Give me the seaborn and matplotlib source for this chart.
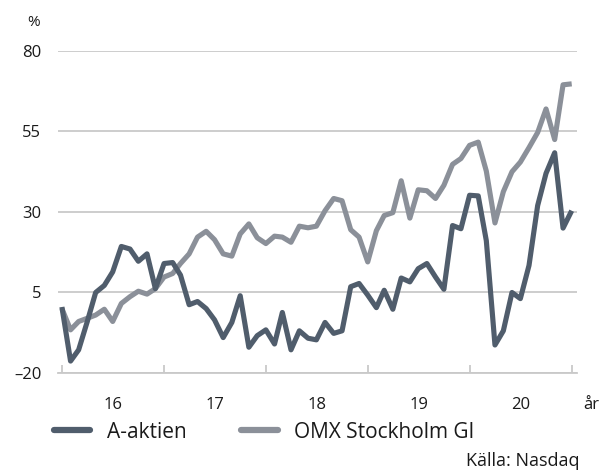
import matplotlib
matplotlib.use("Agg")
import matplotlib.pyplot as plt
import numpy as np
import pandas as pd
import seaborn as sns

# Monthly development in percent, Dec 2015 - Dec 2020
months = pd.date_range("2015-12-31", periods=61, freq="ME")

a_aktien = [
    0.5, -16.3, -12.8, -4.0, 5.0, 7.2, 11.4, 19.3, 18.5, 14.7, 17.0, 6.2,
    14.0, 14.3, 10.4, 1.2, 2.2, 0.0, -3.5, -9.0, -4.3, 4.0, -12.0, -8.4,
    -6.6, -11.0, -1.2, -12.8, -6.9, -9.2, -9.7, -4.3, -7.7, -6.9, 6.8, 7.8,
    4.2, 0.3, 5.7, -0.2, 9.5, 8.3, 12.4, 14.0, 9.8, 6.0, 25.8, 24.8,
    35.2, 35.0, 21.1, -11.3, -6.9, 5.0, 3.1, 13.4, 32.0, 42.0, 48.4, 25.0,
    30.4,
]

omx_gi = [
    0.0, -6.6, -4.0, -3.0, -2.0, -0.2, -4.0, 1.6, 3.7, 5.4, 4.5, 6.2,
    9.8, 10.9, 14.0, 17.0, 22.2, 24.0, 21.4, 17.0, 16.3, 23.2, 26.3, 22.0,
    20.2, 22.5, 22.2, 20.6, 25.6, 25.1, 25.6, 30.4, 34.2, 33.5, 24.5, 22.2,
    14.5, 24.2, 28.9, 29.8, 39.7, 28.1, 36.9, 36.6, 34.2, 38.3, 44.8, 46.6,
    50.7, 51.7, 42.7, 26.6, 36.3, 42.5, 45.5, 50.0, 54.7, 62.0, 52.5, 69.5,
    69.8,
]

series_names = ["A-aktien", "OMX Stockholm GI"]
series_colors = ["#505d6c", "#8b9099"]
year_labels = ["16", "17", "18", "19", "20"]
y_ticks = [-20, 5, 30, 55, 80]
y_tick_labels = ["\u201320", "5", "30", "55", "80"]

df = pd.concat([
    pd.DataFrame({"datum": months, "procent": a_aktien, "serie": series_names[0]}),
    pd.DataFrame({"datum": months, "procent": omx_gi, "serie": series_names[1]}),
])

sns.set_theme(style="white")
plt.rcParams["font.family"] = ["Open Sans", "DejaVu Sans"]

W, H = 608, 470
fig = plt.figure(figsize=(W / 100, H / 100), dpi=100)
ax = fig.add_axes([58 / W, 1 - 373 / H, (577 - 58) / W, (373 - 51) / H])

palette = dict(zip(series_names, series_colors))
sns.lineplot(data=df, x="datum", y="procent", hue="serie", hue_order=series_names,
             palette=palette, linewidth=3.7, ax=ax, legend=True)

# dark series drawn on top of the index
for line in ax.lines:
    line.set_solid_joinstyle("round")
    line.set_solid_capstyle("butt")
    if matplotlib.colors.to_hex(line.get_color()) == series_colors[0]:
        line.set_zorder(4)
    else:
        line.set_zorder(3)

grid_color = "#c9c9c9"
text_color = "#1a1a1a"
ax.set_ylim(-20, 80)
ax.set_yticks(y_ticks)
ax.set_yticklabels(y_tick_labels)
ax.yaxis.grid(True, color=grid_color, linewidth=1.3)
ax.set_axisbelow(True)

ax.set_xlim(pd.Timestamp("2015-12-17"), pd.Timestamp("2021-01-19"))

year_starts = [pd.Timestamp(f"20{y}-01-01") for y in ["16", "17", "18", "19", "20", "21"]]
mid_years = [pd.Timestamp(f"20{y}-07-01") for y in year_labels]
ax.set_xticks(year_starts)
ax.set_xticklabels([""] * len(year_starts))
ax.set_xticks(mid_years, minor=True)
ax.set_xticklabels(year_labels, minor=True)

ax.tick_params(axis="x", which="major", direction="in", length=6, width=1.3,
               color=grid_color, bottom=True)
ax.tick_params(axis="x", which="minor", length=0, pad=17, labelsize=12,
               labelcolor=text_color)
ax.tick_params(axis="y", length=0, pad=12, labelsize=12, labelcolor=text_color)

for side in ["top", "right", "left"]:
    ax.spines[side].set_visible(False)
ax.spines["bottom"].set_color(grid_color)
ax.spines["bottom"].set_linewidth(1.3)

ax.set_xlabel("")
ax.set_ylabel("")

# legend below the plot area
leg = ax.get_legend()
handles = leg.legend_handles
labels = [t.get_text() for t in leg.get_texts()]
leg.remove()
for h, c in zip(handles, series_colors):
    h.set_linewidth(4.5)
    h.set_color(c)
ax.legend(handles, labels, ncol=2, frameon=False, loc="center left",
          bbox_to_anchor=(54 / W, 1 - 432 / H), bbox_transform=fig.transFigure,
          borderaxespad=0, borderpad=0, fontsize=15, handlelength=1.75,
          handletextpad=0.8, columnspacing=2.6, labelcolor=text_color)

fig.text(34 / W, 1 - 22 / H, "%", ha="center", va="center", fontsize=11, color=text_color)
fig.text(591 / W, 1 - 409 / H, "år", ha="center", va="baseline", fontsize=12, color=text_color)
fig.text(579 / W, 1 - 466 / H, "Källa: Nasdaq", ha="right", va="baseline", fontsize=13,
         color=text_color)

fig.savefig("out.png", dpi=100)
